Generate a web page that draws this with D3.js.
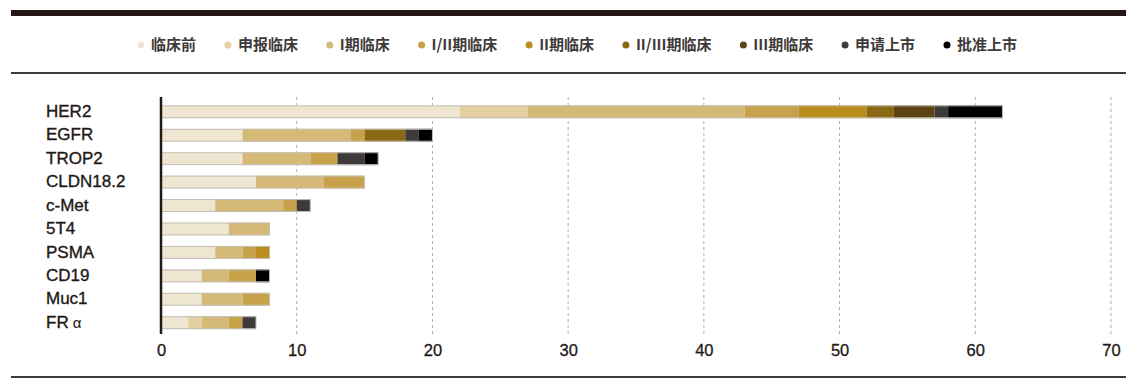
<!DOCTYPE html>
<html>
<head>
<meta charset="utf-8">
<script src="https://cdn.jsdelivr.net/npm/d3@7"></script>
<style>
  body { margin: 0; background: #fff; }
  svg { display: block; font-family: "Liberation Sans", Arial, sans-serif; }
</style>
</head>
<body>
<div id="chart"></div>
<script>
var targets = ["HER2", "EGFR", "TROP2", "CLDN18.2", "c-Met", "5T4", "PSMA", "CD19", "Muc1", "FR\u03b1"];
var stages = ["临床前", "申报临床", "I期临床", "I/II期临床", "II期临床", "II/III期临床", "III期临床", "申请上市", "批准上市"];
var stageColors = ["#efe6d2", "#e3cfa0", "#d5b977", "#c8a24b", "#b98d1e", "#8b6914", "#5c4512", "#3e3a39", "#000000"];

// counts per stage, one array per stage, in the order of targets
var preclinical = [22, 6, 6, 7, 4, 5, 4, 3, 3, 2];
var ind         = [5, 0, 0, 0, 0, 0, 0, 0, 0, 1];
var phase1      = [16, 8, 5, 5, 5, 3, 2, 2, 3, 2];
var phase12     = [4, 1, 2, 3, 1, 0, 1, 2, 2, 1];
var phase2      = [5, 0, 0, 0, 0, 0, 1, 0, 0, 0];
var phase23     = [2, 3, 0, 0, 0, 0, 0, 0, 0, 0];
var phase3      = [3, 0, 0, 0, 0, 0, 0, 0, 0, 0];
var filed       = [1, 1, 2, 0, 1, 0, 0, 0, 0, 1];
var approved    = [4, 1, 1, 0, 0, 0, 0, 1, 0, 0];
var xTicks = [0, 10, 20, 30, 40, 50, 60, 70];

var series = [preclinical, ind, phase1, phase12, phase2, phase23, phase3, filed, approved];

var width = 1126,
    height = 379;

var rows = targets.map(function(t, i) {
  var r = { name: t };
  stages.forEach(function(s, j) { r[s] = series[j][i]; });
  return r;
});

var stacked = d3.stack().keys(stages)(rows);

var x = d3.scaleLinear()
    .domain([0, 70])
    .range([161, 1111]);

var y = d3.scaleBand()
    .domain(targets)
    .range([99.5, 335])
    .paddingInner(0.45)
    .paddingOuter(0.25);

var color = d3.scaleOrdinal()
    .domain(stages)
    .range(stageColors);

var svg = d3.select("#chart").append("svg")
    .attr("width", width)
    .attr("height", height);

// frame rules
svg.append("rect")
    .attr("x", 11).attr("y", 10)
    .attr("width", width - 11).attr("height", 6)
    .attr("fill", "#231815");
svg.append("rect")
    .attr("x", 11).attr("y", 72)
    .attr("width", width - 11).attr("height", 2)
    .attr("fill", "#3e3a39");
svg.append("rect")
    .attr("x", 11).attr("y", 376)
    .attr("width", width - 11).attr("height", 2)
    .attr("fill", "#3e3a39");

// legend
var legend = svg.append("g").attr("class", "legend");
var items = legend.selectAll("g")
    .data(stages)
  .enter().append("g");

items.append("circle")
    .attr("r", 3.5)
    .attr("cy", 45)
    .attr("fill", function(d) { return color(d); });

items.append("text")
    .attr("x", 10)
    .attr("y", 45)
    .attr("dy", "0.36em")
    .attr("font-family", "'Noto Sans CJK SC', sans-serif")
    .attr("font-size", 15)
    .attr("font-weight", 600)
    .attr("fill", "#3e3a39")
    .text(function(d) { return d; });

var itemW = [];
items.each(function() {
  itemW.push(10 + d3.select(this).select("text").node().getComputedTextLength());
});
var legStart = 141, legEnd = 1017;
var gap = (legEnd - legStart - d3.sum(itemW)) / (stages.length - 1);
var cursor = legStart;
items.attr("transform", function(d, i) {
  var t = "translate(" + cursor + ",0)";
  cursor += itemW[i] + gap;
  return t;
});

// gridlines
svg.append("g")
    .selectAll("line")
    .data(xTicks.filter(function(d) { return d > 0; }))
  .enter().append("line")
    .attr("x1", function(d) { return x(d); })
    .attr("x2", function(d) { return x(d); })
    .attr("y1", 97)
    .attr("y2", 334)
    .attr("stroke", "#b0b0b0")
    .attr("stroke-width", 1)
    .attr("stroke-dasharray", "3,3");

// bars
svg.append("g")
    .selectAll("g")
    .data(stacked)
  .enter().append("g")
    .attr("fill", function(d) { return color(d.key); })
  .selectAll("rect")
    .data(function(d) { return d; })
  .enter().append("rect")
    .attr("x", function(d) { return x(d[0]); })
    .attr("y", function(d) { return y(d.data.name); })
    .attr("width", function(d) { return x(d[1]) - x(d[0]); })
    .attr("height", y.bandwidth());

// faint outline around each bar
svg.append("g")
    .selectAll("rect")
    .data(rows)
  .enter().append("rect")
    .attr("x", x(0))
    .attr("y", function(d) { return y(d.name) + 0.5; })
    .attr("width", function(d) { return x(d3.sum(stages, function(s) { return d[s]; })) - x(0); })
    .attr("height", y.bandwidth() - 1)
    .attr("fill", "none")
    .attr("stroke", "#c4c0b8")
    .attr("stroke-width", 1);

// y labels
var labels = svg.append("g")
    .selectAll("text")
    .data(targets)
  .enter().append("text")
    .attr("x", 46)
    .attr("y", function(d) { return y(d) + y.bandwidth() / 2 - 1; })
    .attr("dy", "0.36em")
    .attr("font-size", 17)
    .attr("fill", "#231815")
    .attr("stroke", "#231815")
    .attr("stroke-width", 0.35);

labels.each(function(d) {
  var t = d3.select(this);
  var k = d.indexOf("\u03b1");
  if (k < 0) { t.text(d); return; }
  t.append("tspan").text(d.slice(0, k));
  t.append("tspan").attr("dx", 4).attr("font-size", 15).attr("stroke-width", 0.1).text("\u03b1");
});

// axis line
svg.append("line")
    .attr("x1", x(0)).attr("x2", x(0))
    .attr("y1", 97).attr("y2", 334)
    .attr("stroke", "#231815")
    .attr("stroke-width", 2.5);

// x axis
var xAxis = d3.axisBottom(x)
    .tickValues(xTicks)
    .tickSize(0)
    .tickPadding(0);

var gx = svg.append("g")
    .attr("transform", "translate(0,344)")
    .call(xAxis);
gx.select(".domain").remove();
gx.selectAll("text")
    .attr("dy", "0.75em")
    .attr("font-size", 16.5)
    .attr("font-family", "'Liberation Sans Narrow', 'Liberation Sans', Arial, sans-serif")
    .attr("fill", "#231815")
    .attr("stroke", "#231815")
    .attr("stroke-width", 0.3);
</script>
</body>
</html>
